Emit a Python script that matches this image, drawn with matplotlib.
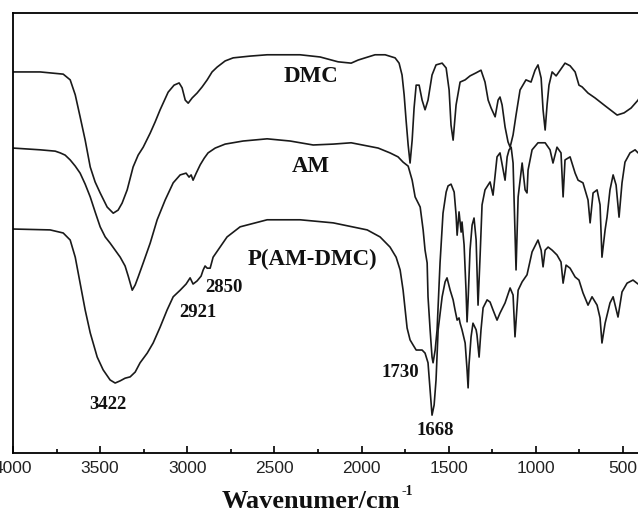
import matplotlib
matplotlib.use("Agg")
import matplotlib.pyplot as plt
from matplotlib.ticker import MultipleLocator

# FTIR spectra (wavenumber in cm-1, transmittance in arbitrary %)
dmc_wn = [4000, 3844, 3712, 3672, 3643, 3615, 3586, 3557, 3529, 3500, 3460, 3425, 3397, 3374, 3345,
          3311, 3282, 3253, 3213, 3185, 3156, 3110, 3076, 3047, 3030, 3012, 2995, 2972, 2944, 2915,
          2886, 2858, 2829, 2783, 2737, 2640, 2542, 2353, 2238, 2135, 2060, 2020, 1980, 1923, 1865,
          1808, 1785, 1768, 1756, 1745, 1733, 1722, 1710, 1699, 1687, 1670, 1653, 1636, 1619, 1596,
          1573, 1538, 1515, 1498, 1487, 1475, 1458, 1435, 1406, 1378, 1343, 1315, 1292, 1274, 1257,
          1234, 1217, 1206, 1194, 1177, 1160, 1148, 1131, 1114, 1091, 1057, 1028, 1005, 988, 970,
          959, 947, 936, 925, 907, 884, 861, 833, 804, 775, 753, 735, 701, 661, 603, 534, 494, 454,
          414, 397]
dmc_t = [86.6, 86.6, 86.1, 84.8, 81.4, 76.4, 71.1, 65.0, 61.6, 59.1, 55.9, 54.5, 55.2, 56.8, 59.8,
         65.0, 67.7, 69.5, 72.7, 75.2, 78.0, 82.0, 83.6, 84.1, 83.0, 80.2, 79.5, 80.7, 81.8, 83.2,
         84.8, 86.6, 87.7, 89.1, 89.8, 90.2, 90.5, 90.5, 90.0, 88.9, 88.6, 89.3, 89.8, 90.5, 90.5,
         89.8, 88.6, 85.9, 81.4, 75.7, 70.0, 65.9, 71.1, 78.4, 83.6, 83.6, 80.2, 78.0, 80.2, 85.9,
         88.2, 88.6, 87.5, 82.5, 74.5, 71.1, 79.1, 84.3, 84.8, 85.7, 86.4, 87.0, 84.3, 80.2, 78.4,
         76.4, 80.2, 80.9, 79.1, 74.1, 70.7, 69.5, 72.3, 76.8, 82.5, 84.8, 84.3, 87.0, 88.2, 85.2,
         78.0, 73.4, 79.1, 83.6, 86.6, 85.7, 87.0, 88.6, 88.0, 86.6, 83.6, 83.2, 81.8, 80.7, 78.9,
         76.8, 77.3, 78.4, 80.2, 81.4]

am_wn = [4000, 3844, 3758, 3729, 3701, 3672, 3643, 3615, 3586, 3557, 3529, 3500, 3471, 3443, 3414,
         3385, 3357, 3339, 3316, 3299, 3282, 3253, 3213, 3173, 3127, 3081, 3041, 3007, 2990, 2978,
         2967, 2949, 2926, 2903, 2881, 2840, 2783, 2680, 2542, 2410, 2278, 2163, 2060, 1968, 1905,
         1837, 1791, 1762, 1733, 1710, 1693, 1664, 1647, 1636, 1624, 1619, 1607, 1596, 1590, 1578,
         1567, 1550, 1533, 1515, 1504, 1487, 1469, 1458, 1452, 1441, 1429, 1424, 1412, 1401, 1395,
         1389, 1378, 1366, 1355, 1343, 1332, 1320, 1309, 1292, 1274, 1263, 1246, 1234, 1223, 1206,
         1188, 1177, 1165, 1154, 1142, 1131, 1120, 1114, 1102, 1079, 1062, 1051, 1045, 1022, 988,
         947, 919, 902, 879, 856, 844, 833, 804, 775, 758, 730, 701, 689, 672, 649, 632, 621, 603,
         592, 575, 557, 540, 523, 506, 489, 460, 431, 414, 397]
am_t = [69.3, 68.9, 68.6, 68.2, 67.7, 66.6, 65.2, 63.6, 61.1, 58.2, 54.8, 51.4, 49.1, 47.7, 46.1,
        44.5, 42.5, 40.2, 37.0, 38.2, 40.0, 43.2, 47.7, 53.0, 57.5, 61.4, 63.2, 63.6, 62.7, 63.2,
        62.0, 63.6, 65.5, 67.0, 68.2, 69.3, 70.2, 70.9, 71.4, 70.9, 70.0, 70.2, 70.5, 69.8, 69.3,
        68.2, 67.3, 66.1, 65.2, 62.0, 58.2, 55.9, 50.7, 46.1, 43.2, 35.5, 28.0, 21.8, 20.5, 23.4,
        28.0, 43.2, 54.5, 59.3, 60.7, 61.1, 59.3, 54.1, 49.5, 54.8, 50.2, 52.5, 47.3, 37.0, 29.8,
        34.8, 46.1, 51.8, 53.4, 48.4, 33.6, 45.0, 56.4, 59.8, 60.9, 61.6, 58.6, 63.2, 67.3, 68.2,
        64.3, 62.0, 67.3, 68.9, 69.5, 65.9, 50.7, 41.6, 58.2, 65.9, 59.8, 59.1, 64.3, 68.9, 70.5,
        70.5, 68.9, 65.9, 69.5, 68.2, 58.2, 66.6, 67.3, 63.6, 62.0, 61.4, 57.5, 52.3, 59.1, 59.8,
        56.4, 44.5, 50.7, 53.6, 59.8, 63.2, 60.9, 53.6, 61.4, 66.1, 68.2, 68.9, 68.2, 68.4]

pam_wn = [4000, 3787, 3712, 3672, 3643, 3615, 3586, 3557, 3517, 3483, 3443, 3414, 3385, 3357, 3328,
          3299, 3271, 3230, 3196, 3156, 3116, 3081, 3041, 3007, 2984, 2967, 2944, 2921, 2909, 2898,
          2886, 2869, 2852, 2812, 2772, 2697, 2542, 2353, 2163, 1968, 1894, 1837, 1802, 1779, 1762,
          1750, 1739, 1722, 1704, 1687, 1670, 1653, 1636, 1619, 1607, 1596, 1584, 1573, 1561, 1538,
          1521, 1510, 1492, 1475, 1464, 1452, 1441, 1435, 1424, 1406, 1395, 1389, 1384, 1372, 1361,
          1343, 1338, 1326, 1315, 1303, 1280, 1263, 1246, 1223, 1206, 1177, 1148, 1131, 1120, 1102,
          1079, 1051, 1022, 988, 970, 959, 947, 930, 907, 879, 856, 844, 827, 804, 775, 753, 730,
          701, 678, 649, 632, 621, 603, 575, 557, 529, 506, 477, 443, 414, 397]
pam_t = [50.9, 50.7, 50.0, 48.4, 44.5, 38.6, 32.5, 27.3, 21.8, 18.9, 16.6, 15.9, 16.4, 17.0, 17.3,
         18.4, 20.5, 22.7, 25.0, 28.6, 32.5, 35.5, 37.0, 38.4, 39.8, 38.4, 39.1, 40.2, 41.6, 42.5,
         42.0, 42.0, 44.5, 46.8, 49.1, 51.4, 53.0, 53.0, 52.3, 50.7, 49.1, 46.8, 44.5, 41.6, 37.0,
         32.5, 28.4, 25.7, 24.5, 23.4, 23.4, 23.4, 22.7, 20.5, 14.3, 8.6, 10.9, 16.6, 28.0, 35.5,
         38.9, 39.8, 37.0, 34.8, 32.5, 30.2, 30.7, 29.5, 28.0, 25.0, 18.9, 14.8, 20.0, 26.4, 29.5,
         28.0, 26.8, 21.8, 28.0, 33.0, 34.8, 34.3, 32.5, 30.2, 31.8, 34.1, 37.5, 35.9, 26.4, 37.0,
         38.9, 40.5, 45.7, 48.4, 46.1, 42.3, 46.1, 46.8, 46.1, 45.0, 43.4, 38.6, 42.7, 42.0, 40.0,
         39.3, 36.4, 33.6, 35.5, 33.6, 30.7, 25.0, 29.5, 34.1, 35.5, 30.9, 36.6, 38.6, 39.3, 38.4,
         38.6]

# curve names and peak labels
names = ["DMC", "AM", "P(AM-DMC)"]
name_x = [2290, 2290, 2284]
name_y = [85.5, 65.0, 43.9]
peaks = ["3422", "2921", "2850", "1730", "1668"]
peak_x = [3454, 2938, 2789, 1779, 1578]
peak_y = [11.1, 32.0, 37.7, 18.4, 5.2]

fig = plt.figure(figsize=(6.38, 5.15), dpi=100)
ax = fig.add_axes([0.0204, 0.1204, 0.9835, 0.8544])

line_kw = dict(color='#1a1a1a', lw=1.2)
ax.plot(dmc_wn, dmc_t, **line_kw)
ax.plot(am_wn, am_t, **line_kw)
ax.plot(pam_wn, pam_t, **line_kw)

ax.set_xlim(4000, 400)
ax.set_ylim(0, 100)

serif = dict(family='Liberation Serif', weight='bold', color='#111111')
for s, x, y in zip(names, name_x, name_y):
    ax.text(x, y, s, ha='center', va='center', fontsize=16.5, **serif)
for s, x, y in zip(peaks, peak_x, peak_y):
    ax.text(x, y, s, ha='center', va='center', fontsize=13.5, **serif)

ax.xaxis.set_major_locator(MultipleLocator(500))
ax.xaxis.set_minor_locator(MultipleLocator(250))
ax.tick_params(axis='x', which='major', direction='in', length=5, width=1.2,
               labelsize=12.5, pad=6, labelcolor='#222222')
ax.tick_params(axis='x', which='minor', direction='in', length=3, width=1.2)
ax.set_yticks([])
ax.spines['right'].set_visible(False)
for side in ['left', 'top', 'bottom']:
    ax.spines[side].set_linewidth(1.3)
for lbl in ax.get_xticklabels():
    lbl.set_family('Liberation Sans')

# x label: "Wavenumer/cm" with a small raised "-1"
fig.text(400 / 638, 1 - 508 / 515, 'Wavenumer/cm', ha='right', va='baseline',
         fontsize=19, **serif)
fig.text(401 / 638, 1 - 495 / 515, '-1', ha='left', va='baseline',
         fontsize=10, **serif)

fig.savefig('out.png', dpi=100)
